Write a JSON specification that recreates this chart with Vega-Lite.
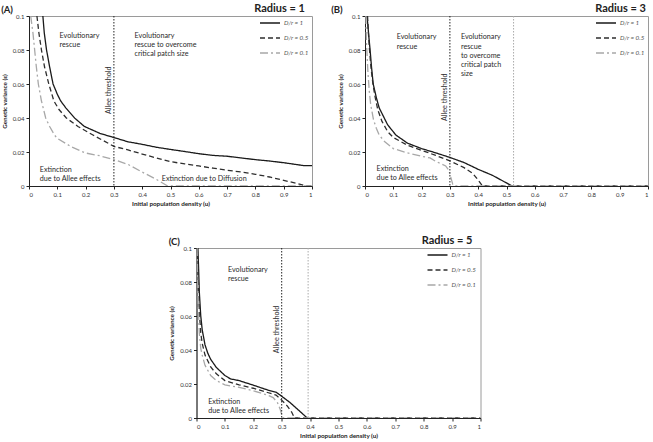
{
  "$schema": "https://vega.github.io/schema/vega-lite/v6.json",
  "padding": {"left": 0, "top": 2, "right": 0, "bottom": 0},
  "config": {
    "font": "Lato",
    "view": {"stroke": "#9a9a9a", "strokeWidth": 1},
    "axis": {"grid": false, "domainColor": "#222", "tickColor": "#222", "labelColor": "#333", "labelFontSize": 6, "titleFontSize": 6.3, "titleFontWeight": "bold", "titleColor": "#222", "tickSize": 3, "labelPadding": 2, "labelOverlap": false},
    "axisX": {"titlePadding": 3},
    "axisY": {"titlePadding": 5},
    "legend": {"title": null, "orient": "none", "legendX": 230, "legendY": -4, "symbolType": "stroke", "symbolSize": 400, "symbolStrokeWidth": 1.4, "labelFontStyle": "italic", "labelFontSize": 6.3, "labelColor": "#555", "rowPadding": -6, "labelOffset": 3},
    "title": {"anchor": "start", "frame": "bounds", "fontSize": 9.5, "fontWeight": "bold", "color": "#222", "offset": 2, "dy": 13},
    "text": {"font": "Lato", "fontSize": 7.2, "color": "#2a2a2a", "lineHeight": 9.2, "lineBreak": "\n", "align": "left", "baseline": "top"}
  },
  "datasets": {
    "curvesA": [
      {"s": "D/r = 1", "u": 0.049, "v": 0.1}, {"s": "D/r = 1", "u": 0.054, "v": 0.09}, {"s": "D/r = 1", "u": 0.062, "v": 0.08}, {"s": "D/r = 1", "u": 0.073, "v": 0.07}, {"s": "D/r = 1", "u": 0.085, "v": 0.06}, {"s": "D/r = 1", "u": 0.1, "v": 0.054}, {"s": "D/r = 1", "u": 0.112, "v": 0.05}, {"s": "D/r = 1", "u": 0.13, "v": 0.046}, {"s": "D/r = 1", "u": 0.161, "v": 0.04}, {"s": "D/r = 1", "u": 0.196, "v": 0.035}, {"s": "D/r = 1", "u": 0.25, "v": 0.031}, {"s": "D/r = 1", "u": 0.3, "v": 0.0285}, {"s": "D/r = 1", "u": 0.35, "v": 0.026}, {"s": "D/r = 1", "u": 0.4, "v": 0.0245}, {"s": "D/r = 1", "u": 0.45, "v": 0.0228}, {"s": "D/r = 1", "u": 0.5, "v": 0.0215}, {"s": "D/r = 1", "u": 0.55, "v": 0.0203}, {"s": "D/r = 1", "u": 0.6, "v": 0.019}, {"s": "D/r = 1", "u": 0.65, "v": 0.018}, {"s": "D/r = 1", "u": 0.7, "v": 0.0175}, {"s": "D/r = 1", "u": 0.75, "v": 0.0165}, {"s": "D/r = 1", "u": 0.8, "v": 0.0155}, {"s": "D/r = 1", "u": 0.85, "v": 0.0147}, {"s": "D/r = 1", "u": 0.9, "v": 0.0137}, {"s": "D/r = 1", "u": 0.95, "v": 0.0125}, {"s": "D/r = 1", "u": 0.97, "v": 0.012}, {"s": "D/r = 1", "u": 1.0, "v": 0.012},
      {"s": "D/r = 0.5", "u": 0.028, "v": 0.1}, {"s": "D/r = 0.5", "u": 0.035, "v": 0.09}, {"s": "D/r = 0.5", "u": 0.044, "v": 0.08}, {"s": "D/r = 0.5", "u": 0.055, "v": 0.07}, {"s": "D/r = 0.5", "u": 0.07, "v": 0.06}, {"s": "D/r = 0.5", "u": 0.088, "v": 0.05}, {"s": "D/r = 0.5", "u": 0.106, "v": 0.045}, {"s": "D/r = 0.5", "u": 0.132, "v": 0.04}, {"s": "D/r = 0.5", "u": 0.173, "v": 0.035}, {"s": "D/r = 0.5", "u": 0.226, "v": 0.03}, {"s": "D/r = 0.5", "u": 0.3, "v": 0.0233}, {"s": "D/r = 0.5", "u": 0.35, "v": 0.0212}, {"s": "D/r = 0.5", "u": 0.4, "v": 0.0188}, {"s": "D/r = 0.5", "u": 0.45, "v": 0.0165}, {"s": "D/r = 0.5", "u": 0.5, "v": 0.0143}, {"s": "D/r = 0.5", "u": 0.55, "v": 0.013}, {"s": "D/r = 0.5", "u": 0.6, "v": 0.0118}, {"s": "D/r = 0.5", "u": 0.65, "v": 0.0105}, {"s": "D/r = 0.5", "u": 0.7, "v": 0.0093}, {"s": "D/r = 0.5", "u": 0.75, "v": 0.0082}, {"s": "D/r = 0.5", "u": 0.8, "v": 0.0069}, {"s": "D/r = 0.5", "u": 0.85, "v": 0.0053}, {"s": "D/r = 0.5", "u": 0.9, "v": 0.0033}, {"s": "D/r = 0.5", "u": 0.95, "v": 0.0014}, {"s": "D/r = 0.5", "u": 0.98, "v": 0}, {"s": "D/r = 0.5", "u": 1.0, "v": 0},
      {"s": "D/r = 0.1", "u": 0.006, "v": 0.1}, {"s": "D/r = 0.1", "u": 0.014, "v": 0.09}, {"s": "D/r = 0.1", "u": 0.02, "v": 0.08}, {"s": "D/r = 0.1", "u": 0.026, "v": 0.07}, {"s": "D/r = 0.1", "u": 0.033, "v": 0.06}, {"s": "D/r = 0.1", "u": 0.044, "v": 0.05}, {"s": "D/r = 0.1", "u": 0.059, "v": 0.04}, {"s": "D/r = 0.1", "u": 0.073, "v": 0.035}, {"s": "D/r = 0.1", "u": 0.09, "v": 0.03}, {"s": "D/r = 0.1", "u": 0.1, "v": 0.028}, {"s": "D/r = 0.1", "u": 0.15, "v": 0.023}, {"s": "D/r = 0.1", "u": 0.2, "v": 0.0194}, {"s": "D/r = 0.1", "u": 0.25, "v": 0.0178}, {"s": "D/r = 0.1", "u": 0.3, "v": 0.0155}, {"s": "D/r = 0.1", "u": 0.35, "v": 0.0127}, {"s": "D/r = 0.1", "u": 0.4, "v": 0.0082}, {"s": "D/r = 0.1", "u": 0.45, "v": 0.0039}, {"s": "D/r = 0.1", "u": 0.49, "v": 0}, {"s": "D/r = 0.1", "u": 1.0, "v": 0}
    ],
    "curvesB": [
      {"s": "D/r = 1", "u": 0.007, "v": 0.1}, {"s": "D/r = 1", "u": 0.01, "v": 0.095}, {"s": "D/r = 1", "u": 0.014, "v": 0.087}, {"s": "D/r = 1", "u": 0.018, "v": 0.08}, {"s": "D/r = 1", "u": 0.023, "v": 0.07}, {"s": "D/r = 1", "u": 0.029, "v": 0.06}, {"s": "D/r = 1", "u": 0.04, "v": 0.052}, {"s": "D/r = 1", "u": 0.05, "v": 0.046}, {"s": "D/r = 1", "u": 0.068, "v": 0.04}, {"s": "D/r = 1", "u": 0.08, "v": 0.036}, {"s": "D/r = 1", "u": 0.109, "v": 0.03}, {"s": "D/r = 1", "u": 0.15, "v": 0.0252}, {"s": "D/r = 1", "u": 0.2, "v": 0.022}, {"s": "D/r = 1", "u": 0.25, "v": 0.0195}, {"s": "D/r = 1", "u": 0.3, "v": 0.0168}, {"s": "D/r = 1", "u": 0.35, "v": 0.0138}, {"s": "D/r = 1", "u": 0.4, "v": 0.0098}, {"s": "D/r = 1", "u": 0.45, "v": 0.0063}, {"s": "D/r = 1", "u": 0.5, "v": 0.0018}, {"s": "D/r = 1", "u": 0.52, "v": 0},
      {"s": "D/r = 0.5", "u": 0.009, "v": 0.1}, {"s": "D/r = 0.5", "u": 0.012, "v": 0.09}, {"s": "D/r = 0.5", "u": 0.016, "v": 0.08}, {"s": "D/r = 0.5", "u": 0.021, "v": 0.07}, {"s": "D/r = 0.5", "u": 0.028, "v": 0.06}, {"s": "D/r = 0.5", "u": 0.035, "v": 0.053}, {"s": "D/r = 0.5", "u": 0.045, "v": 0.045}, {"s": "D/r = 0.5", "u": 0.06, "v": 0.038}, {"s": "D/r = 0.5", "u": 0.08, "v": 0.032}, {"s": "D/r = 0.5", "u": 0.1, "v": 0.0285}, {"s": "D/r = 0.5", "u": 0.15, "v": 0.024}, {"s": "D/r = 0.5", "u": 0.2, "v": 0.021}, {"s": "D/r = 0.5", "u": 0.25, "v": 0.018}, {"s": "D/r = 0.5", "u": 0.3, "v": 0.0148}, {"s": "D/r = 0.5", "u": 0.35, "v": 0.0108}, {"s": "D/r = 0.5", "u": 0.38, "v": 0.0075}, {"s": "D/r = 0.5", "u": 0.4, "v": 0.0035}, {"s": "D/r = 0.5", "u": 0.415, "v": 0}, {"s": "D/r = 0.5", "u": 1.0, "v": 0},
      {"s": "D/r = 0.1", "u": 0.003, "v": 0.1}, {"s": "D/r = 0.1", "u": 0.005, "v": 0.085}, {"s": "D/r = 0.1", "u": 0.008, "v": 0.075}, {"s": "D/r = 0.1", "u": 0.01, "v": 0.068}, {"s": "D/r = 0.1", "u": 0.015, "v": 0.056}, {"s": "D/r = 0.1", "u": 0.02, "v": 0.048}, {"s": "D/r = 0.1", "u": 0.03, "v": 0.039}, {"s": "D/r = 0.1", "u": 0.04, "v": 0.034}, {"s": "D/r = 0.1", "u": 0.05, "v": 0.03}, {"s": "D/r = 0.1", "u": 0.07, "v": 0.026}, {"s": "D/r = 0.1", "u": 0.1, "v": 0.022}, {"s": "D/r = 0.1", "u": 0.15, "v": 0.0195}, {"s": "D/r = 0.1", "u": 0.2, "v": 0.0175}, {"s": "D/r = 0.1", "u": 0.23, "v": 0.0165}, {"s": "D/r = 0.1", "u": 0.25, "v": 0.0145}, {"s": "D/r = 0.1", "u": 0.27, "v": 0.013}, {"s": "D/r = 0.1", "u": 0.285, "v": 0.0118}, {"s": "D/r = 0.1", "u": 0.295, "v": 0.0095}, {"s": "D/r = 0.1", "u": 0.3, "v": 0.007}, {"s": "D/r = 0.1", "u": 0.305, "v": 0.004}, {"s": "D/r = 0.1", "u": 0.31, "v": 0.001}, {"s": "D/r = 0.1", "u": 0.315, "v": 0}, {"s": "D/r = 0.1", "u": 1.0, "v": 0}
    ],
    "curvesC": [
      {"s": "D/r = 1", "u": 0.005, "v": 0.1}, {"s": "D/r = 1", "u": 0.008, "v": 0.085}, {"s": "D/r = 1", "u": 0.01, "v": 0.074}, {"s": "D/r = 1", "u": 0.015, "v": 0.06}, {"s": "D/r = 1", "u": 0.02, "v": 0.052}, {"s": "D/r = 1", "u": 0.03, "v": 0.043}, {"s": "D/r = 1", "u": 0.04, "v": 0.038}, {"s": "D/r = 1", "u": 0.05, "v": 0.0345}, {"s": "D/r = 1", "u": 0.07, "v": 0.0297}, {"s": "D/r = 1", "u": 0.1, "v": 0.025}, {"s": "D/r = 1", "u": 0.12, "v": 0.023}, {"s": "D/r = 1", "u": 0.15, "v": 0.022}, {"s": "D/r = 1", "u": 0.2, "v": 0.0193}, {"s": "D/r = 1", "u": 0.25, "v": 0.0165}, {"s": "D/r = 1", "u": 0.28, "v": 0.0152}, {"s": "D/r = 1", "u": 0.3, "v": 0.0128}, {"s": "D/r = 1", "u": 0.33, "v": 0.009}, {"s": "D/r = 1", "u": 0.36, "v": 0.0045}, {"s": "D/r = 1", "u": 0.39, "v": 0},
      {"s": "D/r = 0.5", "u": 0.003, "v": 0.1}, {"s": "D/r = 0.5", "u": 0.005, "v": 0.09}, {"s": "D/r = 0.5", "u": 0.008, "v": 0.072}, {"s": "D/r = 0.5", "u": 0.01, "v": 0.062}, {"s": "D/r = 0.5", "u": 0.015, "v": 0.05}, {"s": "D/r = 0.5", "u": 0.02, "v": 0.044}, {"s": "D/r = 0.5", "u": 0.03, "v": 0.037}, {"s": "D/r = 0.5", "u": 0.05, "v": 0.03}, {"s": "D/r = 0.5", "u": 0.07, "v": 0.026}, {"s": "D/r = 0.5", "u": 0.1, "v": 0.022}, {"s": "D/r = 0.5", "u": 0.15, "v": 0.0195}, {"s": "D/r = 0.5", "u": 0.2, "v": 0.0175}, {"s": "D/r = 0.5", "u": 0.25, "v": 0.015}, {"s": "D/r = 0.5", "u": 0.28, "v": 0.0135}, {"s": "D/r = 0.5", "u": 0.3, "v": 0.0105}, {"s": "D/r = 0.5", "u": 0.32, "v": 0.007}, {"s": "D/r = 0.5", "u": 0.335, "v": 0.0035}, {"s": "D/r = 0.5", "u": 0.345, "v": 0}, {"s": "D/r = 0.5", "u": 1.0, "v": 0},
      {"s": "D/r = 0.1", "u": 0.002, "v": 0.1}, {"s": "D/r = 0.1", "u": 0.004, "v": 0.08}, {"s": "D/r = 0.1", "u": 0.006, "v": 0.068}, {"s": "D/r = 0.1", "u": 0.01, "v": 0.05}, {"s": "D/r = 0.1", "u": 0.015, "v": 0.041}, {"s": "D/r = 0.1", "u": 0.02, "v": 0.037}, {"s": "D/r = 0.1", "u": 0.03, "v": 0.031}, {"s": "D/r = 0.1", "u": 0.05, "v": 0.025}, {"s": "D/r = 0.1", "u": 0.07, "v": 0.022}, {"s": "D/r = 0.1", "u": 0.1, "v": 0.0195}, {"s": "D/r = 0.1", "u": 0.15, "v": 0.018}, {"s": "D/r = 0.1", "u": 0.2, "v": 0.016}, {"s": "D/r = 0.1", "u": 0.25, "v": 0.0135}, {"s": "D/r = 0.1", "u": 0.27, "v": 0.012}, {"s": "D/r = 0.1", "u": 0.285, "v": 0.009}, {"s": "D/r = 0.1", "u": 0.295, "v": 0.005}, {"s": "D/r = 0.1", "u": 0.3, "v": 0.002}, {"s": "D/r = 0.1", "u": 0.305, "v": 0}, {"s": "D/r = 0.1", "u": 1.0, "v": 0}
    ]
  },
  "resolve": {"scale": {"color": "independent", "strokeDash": "independent"}, "legend": {"color": "independent", "strokeDash": "independent"}},
  "spacing": 27,
  "center": true,
  "vconcat": [
    {
      "spacing": 17,
      "resolve": {"scale": {"color": "independent", "strokeDash": "independent"}, "legend": {"color": "independent", "strokeDash": "independent"}},
      "hconcat": [
        {
          "width": 283, "height": 170,
          "title": {"text": "(A)"},
          "encoding": {
            "x": {"field": "u", "type": "quantitative", "scale": {"domain": [0, 1], "nice": false}, "axis": {"values": [0, 0.1, 0.2, 0.3, 0.4, 0.5, 0.6, 0.7, 0.8, 0.9, 1], "format": "~g", "labelOverlap": false, "title": "Initial population density (u)"}},
            "y": {"field": "v", "type": "quantitative", "scale": {"domain": [0, 0.1], "nice": false}, "axis": {"values": [0, 0.02, 0.04, 0.06, 0.08, 0.1], "format": "~g", "labelOverlap": false, "title": "Genetic variance (ε)"}}
          },
          "layer": [
            {
              "data": {"name": "curvesA"},
              "mark": {"type": "line", "strokeWidth": 1.3, "clip": true},
              "encoding": {
                "color": {"field": "s", "type": "nominal", "scale": {"domain": ["D/r = 1", "D/r = 0.5", "D/r = 0.1"], "range": ["#1a1a1a", "#2e2e2e", "#a8a8a8"]}},
                "strokeDash": {"field": "s", "type": "nominal", "scale": {"domain": ["D/r = 1", "D/r = 0.5", "D/r = 0.1"], "range": [[1, 0], [5, 3], [8, 3, 2, 3]]}}
              }
            },
            {
              "data": {"values": [{"u": 0.3}]},
              "mark": {"type": "rule", "color": "#222", "strokeDash": [1.5, 1.5], "strokeWidth": 1},
              "encoding": {"y": {"value": 0}, "y2": {"value": 170}}
            },
            {
              "data": {"values": [{"label": "Evolutionary\nrescue", "u": 0.108, "v": 0.0906}, {"label": "Evolutionary\nrescue to overcome\ncritical patch size", "u": 0.373, "v": 0.0906}, {"label": "Extinction\ndue to Allee effects", "u": 0.038, "v": 0.0119}, {"label": "Extinction due to Diffusion", "u": 0.469, "v": 0.0065}]},
              "mark": {"type": "text"},
              "encoding": {"text": {"field": "label"}}
            },
            {
              "data": {"values": [{"label": "Allee threshold", "u": 0.297, "v": 0.0563}]},
              "mark": {"type": "text", "angle": 270, "align": "center", "baseline": "bottom"},
              "encoding": {"text": {"field": "label"}}
            },
            {
              "data": {"values": [{"label": "Radius = 1", "u": 1, "v": 0.1}]},
              "mark": {"type": "text", "align": "right", "baseline": "bottom", "dx": -7, "dy": -2, "fontSize": 11, "fontWeight": "bold", "color": "#222"},
              "encoding": {"text": {"field": "label"}}
            }
          ]
        },
        {
          "width": 283, "height": 170,
          "title": {"text": "(B)", "dx": -6},
          "encoding": {
            "x": {"field": "u", "type": "quantitative", "scale": {"domain": [0, 1], "nice": false}, "axis": {"values": [0, 0.1, 0.2, 0.3, 0.4, 0.5, 0.6, 0.7, 0.8, 0.9, 1], "format": "~g", "labelOverlap": false, "title": "Initial population density (u)"}},
            "y": {"field": "v", "type": "quantitative", "scale": {"domain": [0, 0.1], "nice": false}, "axis": {"values": [0, 0.02, 0.04, 0.06, 0.08, 0.1], "format": "~g", "labelOverlap": false, "title": "Genetic variance (ε)"}}
          },
          "layer": [
            {
              "data": {"name": "curvesB"},
              "mark": {"type": "line", "strokeWidth": 1.3, "clip": true},
              "encoding": {
                "color": {"field": "s", "type": "nominal", "scale": {"domain": ["D/r = 1", "D/r = 0.5", "D/r = 0.1"], "range": ["#1a1a1a", "#2e2e2e", "#a8a8a8"]}},
                "strokeDash": {"field": "s", "type": "nominal", "scale": {"domain": ["D/r = 1", "D/r = 0.5", "D/r = 0.1"], "range": [[1, 0], [5, 3], [8, 3, 2, 3]]}}
              }
            },
            {
              "data": {"values": [{"u": 0.3}]},
              "mark": {"type": "rule", "color": "#222", "strokeDash": [1.5, 1.5], "strokeWidth": 1},
              "encoding": {"y": {"value": 0}, "y2": {"value": 170}}
            },
            {
              "data": {"values": [{"u": 0.525}]},
              "mark": {"type": "rule", "color": "#aaa", "strokeDash": [1.5, 1.5], "strokeWidth": 1},
              "encoding": {"y": {"value": 0}, "y2": {"value": 170}}
            },
            {
              "data": {"values": [{"label": "Evolutionary\nrescue", "u": 0.112, "v": 0.0898}, {"label": "Evolutionary\nrescue\nto overcome\ncritical patch\n size", "u": 0.339, "v": 0.0898}, {"label": "Extinction\ndue to Allee effects", "u": 0.041, "v": 0.0125}]},
              "mark": {"type": "text"},
              "encoding": {"text": {"field": "label"}}
            },
            {
              "data": {"values": [{"label": "Allee threshold", "u": 0.297, "v": 0.0522}]},
              "mark": {"type": "text", "angle": 270, "align": "center", "baseline": "bottom"},
              "encoding": {"text": {"field": "label"}}
            },
            {
              "data": {"values": [{"label": "Radius = 3", "u": 1, "v": 0.1}]},
              "mark": {"type": "text", "align": "right", "baseline": "bottom", "dx": -2, "dy": -2, "fontSize": 11, "fontWeight": "bold", "color": "#222"},
              "encoding": {"text": {"field": "label"}}
            }
          ]
        }
      ]
    },
    {
      "width": 284, "height": 170,
      "title": {"text": "(C)"},
      "encoding": {
        "x": {"field": "u", "type": "quantitative", "scale": {"domain": [0, 1], "nice": false}, "axis": {"values": [0, 0.1, 0.2, 0.3, 0.4, 0.5, 0.6, 0.7, 0.8, 0.9, 1], "format": "~g", "labelOverlap": false, "title": "Initial population density (u)"}},
        "y": {"field": "v", "type": "quantitative", "scale": {"domain": [0, 0.1], "nice": false}, "axis": {"values": [0, 0.02, 0.04, 0.06, 0.08, 0.1], "format": "~g", "labelOverlap": false, "title": "Genetic variance (ε)"}}
      },
      "layer": [
        {
          "data": {"name": "curvesC"},
          "mark": {"type": "line", "strokeWidth": 1.3, "clip": true},
          "encoding": {
            "color": {"field": "s", "type": "nominal", "scale": {"domain": ["D/r = 1", "D/r = 0.5", "D/r = 0.1"], "range": ["#1a1a1a", "#2e2e2e", "#a8a8a8"]}},
            "strokeDash": {"field": "s", "type": "nominal", "scale": {"domain": ["D/r = 1", "D/r = 0.5", "D/r = 0.1"], "range": [[1, 0], [5, 3], [8, 3, 2, 3]]}}
          }
        },
        {
          "data": {"values": [{"u": 0.3}]},
          "mark": {"type": "rule", "color": "#222", "strokeDash": [1.5, 1.5], "strokeWidth": 1},
          "encoding": {"y": {"value": 0}, "y2": {"value": 170}}
        },
        {
          "data": {"values": [{"u": 0.393}]},
          "mark": {"type": "rule", "color": "#aaa", "strokeDash": [1.5, 1.5], "strokeWidth": 1},
          "encoding": {"y": {"value": 0}, "y2": {"value": 170}}
        },
        {
          "data": {"values": [{"label": "Evolutionary\nrescue", "u": 0.111, "v": 0.0896}, {"label": "Extinction\ndue to Allee effects", "u": 0.041, "v": 0.0119}]},
          "mark": {"type": "text"},
          "encoding": {"text": {"field": "label"}}
        },
        {
          "data": {"values": [{"label": "Allee threshold", "u": 0.297, "v": 0.0521}]},
          "mark": {"type": "text", "angle": 270, "align": "center", "baseline": "bottom"},
          "encoding": {"text": {"field": "label"}}
        },
        {
          "data": {"values": [{"label": "Radius = 5", "u": 1, "v": 0.1}]},
          "mark": {"type": "text", "align": "right", "baseline": "bottom", "dx": -8, "dy": -2, "fontSize": 11, "fontWeight": "bold", "color": "#222"},
          "encoding": {"text": {"field": "label"}}
        }
      ]
    }
  ]
}
